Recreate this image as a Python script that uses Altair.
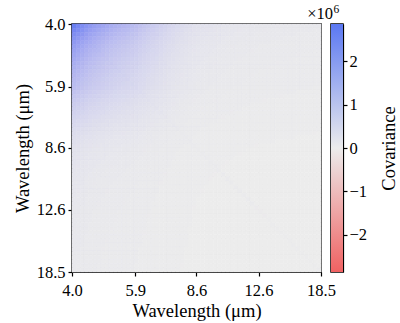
import numpy as np
import pandas as pd
import altair as alt

# Wavelength grid (micron), 60 log-spaced bins between the axis limits
wl_min, wl_max = 4.0, 18.5
n_bins = 60
# per-bin standard deviation (sqrt of covariance units)
sigma = [1631, 1519, 1415, 1318, 1227, 1154, 1087, 1024, 965, 911,
         865, 821, 780, 740, 703, 660, 604, 552, 504, 461,
         422, 385, 348, 312, 279, 250, 224, 200, 180, 161,
         147, 138, 130, 122, 115, 108, 101, 95, 91, 87,
         84, 81, 78, 75, 72, 70, 69, 67, 66, 64,
         63, 61, 60, 59, 57, 56, 55, 54, 52, 51]
diag_noise = 3.0e4
tick_vals = [4.0, 5.9, 8.6, 12.6, 18.5]
cbar_ticks = [-2, -1, 0, 1, 2]
cmax = 2.86  # x1e6

BLUE, GREY, RED = "#5b78f2", "#ececec", "#f06262"

edges = np.geomspace(wl_min, wl_max, n_bins + 1)
rows = []
for i in range(n_bins):
    for j in range(n_bins):
        c = sigma[i] * sigma[j] + (diag_noise if i == j else 0.0)
        rows.append({"x0": edges[j], "x1": edges[j + 1],
                     "y0": edges[i], "y1": edges[i + 1], "cov": c})
df = pd.DataFrame(rows)

FONT = "Liberation Serif"
axis_common = dict(domainColor="black", tickColor="black", labelColor="black",
                   titleColor="black", grid=False, tickSize=4, tickWidth=1.2,
                   domainWidth=1.2, labelFont=FONT, titleFont=FONT,
                   labelFontSize=16.5, titleFontSize=18.5, titleFontWeight="normal")

cscale = alt.Scale(domain=[-cmax * 1e6, 0, cmax * 1e6], range=[RED, GREY, BLUE])

heat = alt.Chart(df).mark_rect(strokeWidth=0.6).encode(
    x=alt.X("x0:Q", scale=alt.Scale(type="log", domain=[wl_min, wl_max], nice=False),
            axis=alt.Axis(values=tick_vals, format=".1f", title="Wavelength (μm)",
                          labelFlush=False, titlePadding=3, labelPadding=6, **axis_common)),
    x2="x1:Q",
    y=alt.Y("y0:Q", scale=alt.Scale(type="log", domain=[wl_min, wl_max], nice=False, reverse=True),
            axis=alt.Axis(values=tick_vals, format=".1f", title="Wavelength (μm)",
                          labelFlush=False, titlePadding=4, labelPadding=3, **axis_common)),
    y2="y1:Q",
    color=alt.Color("cov:Q", scale=cscale, legend=None),
    stroke=alt.Stroke("cov:Q", scale=cscale, legend=None),
).properties(width=249, height=248)

cb_df = pd.DataFrame({"lo": [-cmax], "hi": [cmax]})
grad = {"gradient": "linear", "x1": 0, "y1": 0, "x2": 0, "y2": 1,
        "stops": [{"offset": 0, "color": BLUE}, {"offset": 0.5, "color": GREY},
                  {"offset": 1, "color": RED}]}
cbar_rect = alt.Chart(cb_df).mark_rect().encode(
    y=alt.Y("lo:Q", scale=alt.Scale(domain=[-cmax, cmax], nice=False),
            axis=alt.Axis(orient="right", values=cbar_ticks, format="d",
                          title="Covariance", titleAngle=270, titleBaseline="top",
                          titlePadding=13, labelPadding=2, **axis_common)),
    y2="hi:Q",
    x=alt.value(0), x2=alt.value(12),
    color=alt.value(grad),
)
exp_base = alt.Chart(cb_df).mark_text(text="×10", align="right", baseline="alphabetic",
                                       font=FONT, fontSize=16.5, color="black").encode(
    x=alt.value(2), y=alt.value(-5))
exp_pow = alt.Chart(cb_df).mark_text(text="6", align="left", baseline="alphabetic",
                                      font=FONT, fontSize=11.5, color="black").encode(
    x=alt.value(2.5), y=alt.value(-11))
cbar = alt.layer(cbar_rect, exp_base, exp_pow).properties(width=12, height=248)

chart = alt.hconcat(heat, cbar, spacing=10, bounds="flush").configure_view(
    stroke="black", strokeWidth=1.5
).properties(
    padding={"left": 12, "top": 3, "right": 1, "bottom": 1},
    background="white",
)

chart.save("out.html", embed_options={"renderer": "svg", "actions": False})
